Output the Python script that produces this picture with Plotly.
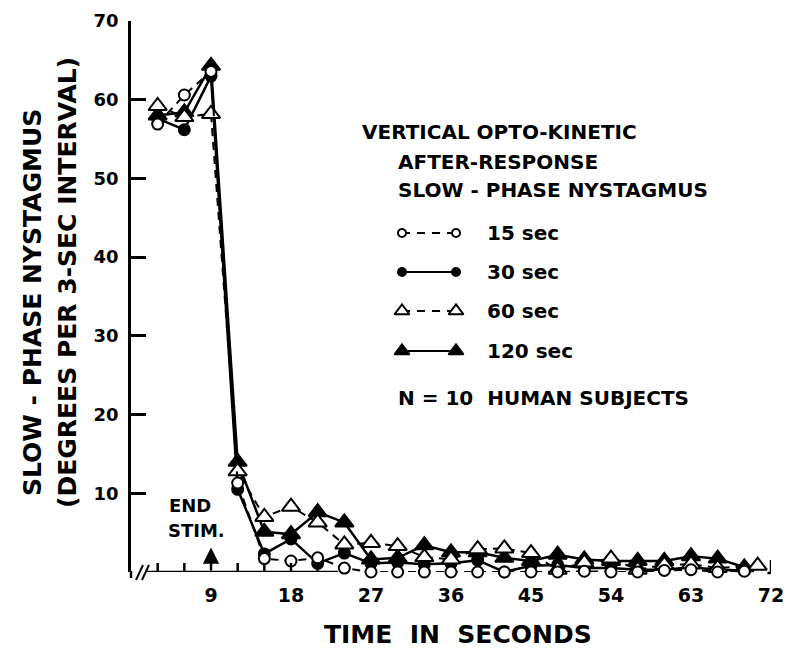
import plotly.graph_objects as go

# ---------------- data ----------------
time_s = [3, 6, 9, 12, 15, 18, 21, 24, 27, 30, 33, 36, 39, 42, 45, 48, 51, 54, 57, 60, 63, 66, 69]
time_60 = [3, 6, 9, 12, 15, 18, 21, 24, 27, 30, 33, 36, 39, 42, 45, 48, 51, 54, 57, 60, 63, 66, 70.5]
v15 = [56.9, 60.6, 63.6, 11.3, 1.7, 1.4, 1.8, 0.5, 0, 0, 0, 0, 0, 0, 0, 0, 0.1, 0, 0, 0.2, 0.3, 0, 0.1]
v30 = [57.6, 56.2, 63.0, 10.5, 2.3, 4.2, 1.1, 2.4, 1.1, 1.2, 1.0, 1.1, 1.5, 0, 0.8, 0.9, 0.5, 0.5, 0.3, 0.3, 0.6, 0.3, 0.2]
v60 = [59.2, 57.8, 58.2, 12.8, 7.0, 8.3, 6.3, 3.5, 3.7, 3.3, 1.9, 1.6, 2.9, 3.0, 2.4, 0.3, 1.2, 1.7, 0.3, 0.9, 1.0, 0.5, 0.8]
v120 = [58.0, 58.4, 64.3, 14.0, 5.1, 4.8, 7.6, 6.3, 1.6, 1.8, 3.4, 2.5, 2.5, 1.8, 1.4, 2.2, 1.6, 1.4, 1.4, 1.4, 2.0, 1.7, 0.6]
series_names = ["15 sec", "30 sec", "60 sec", "120 sec"]
y_ticks = [10, 20, 30, 40, 50, 60, 70]
x_ticks = [9, 18, 27, 36, 45, 54, 63, 72]
minor_x_ticks = [3, 6, 12, 15, 18, 21]
end_stim_time = 9
end_stim_arrow = 3.1

# ---------------- layout helpers ----------------
# the page body has an 8px margin, so the figure is drawn 8px in from the window corner
OFF = 8
W, H = 792 - OFF, 656 - OFF
L, R, T, B = 131 - OFF, 21, 21 - OFF, 84
FONT = "DejaVu Sans"


def xp(px):  # window pixel -> paper
    return (px - OFF - L) / (W - L - R)


def yp(py):  # window pixel -> paper
    return (H - B - (py - OFF)) / (H - T - B)


fig = go.Figure()

DASH = "8px,6px"
styles = {
    "15 sec": dict(symbol="circle", size=11, color="white", dash=DASH, lw=2),
    "30 sec": dict(symbol="circle", size=11, color="black", dash="solid", lw=2.5),
    "60 sec": dict(symbol="triangle-up", size=16, color="white", dash=DASH, lw=2),
    "120 sec": dict(symbol="triangle-up", size=16, color="black", dash="solid", lw=2.5),
}
series = {"15 sec": (time_s, v15), "30 sec": (time_s, v30), "60 sec": (time_60, v60), "120 sec": (time_s, v120)}

for name in ["120 sec", "30 sec", "60 sec", "15 sec"]:
    st = styles[name]
    xs, ys = series[name]
    fig.add_trace(go.Scatter(
        x=xs, y=ys, mode="lines+markers", name=name, showlegend=False, cliponaxis=False,
        line=dict(color="black", width=st["lw"], dash=st["dash"]),
        marker=dict(symbol=st["symbol"], size=st["size"], color=st["color"],
                    line=dict(color="black", width=2)),
    ))

# legend samples on an overlay axis in paper units
legend_rows = {"15 sec": 233, "30 sec": 272, "60 sec": 311, "120 sec": 351}
for name in series_names:
    st = styles[name]
    py = legend_rows[name]
    sz = 8 if st["symbol"] == "circle" else 13
    fig.add_trace(go.Scatter(
        x=[xp(402), xp(456)], y=[yp(py), yp(py)], xaxis="x2", yaxis="y2",
        mode="lines+markers", showlegend=False, cliponaxis=False, hoverinfo="skip",
        line=dict(color="black", width=2, dash="8px,7px" if st["dash"] != "solid" else "solid"),
        marker=dict(symbol=st["symbol"], size=sz, color=st["color"], line=dict(color="black", width=2)),
    ))
    fig.add_annotation(x=xp(485), y=yp(py), xref="paper", yref="paper", text=name, showarrow=False,
                       xanchor="left", yanchor="middle",
                       font=dict(family=FONT, size=20, color="black", weight="bold"))

fig.update_layout(
    width=W, height=H, margin=dict(l=L, r=R, t=T, b=B, autoexpand=False),
    paper_bgcolor="white", plot_bgcolor="white", showlegend=False,
    xaxis=dict(range=[0, 72], showgrid=False, zeroline=False, showline=False, ticks="", automargin=False,
               tickmode="array", tickvals=x_ticks, ticktext=[str(v) for v in x_ticks],
               tickfont=dict(family=FONT, size=19, color="black", weight="bold"), ticklabelstandoff=10),
    yaxis=dict(range=[0, 70], showgrid=False, zeroline=False, showline=True, linewidth=2.5, linecolor="black",
               ticks="inside", ticklen=15, tickwidth=2.5, tickcolor="black", automargin=False,
               tickmode="array", tickvals=y_ticks, ticktext=[str(v) for v in y_ticks],
               tickfont=dict(family=FONT, size=18, color="black", weight="bold"), ticklabelstandoff=6),
    xaxis2=dict(range=[0, 1], overlaying="x", visible=False, automargin=False),
    yaxis2=dict(range=[0, 1], overlaying="y", visible=False, automargin=False),
)

shapes = []
# x axis line (drawn only where visible in the reference)
shapes.append(dict(type="line", xref="x", yref="y", x0=1.6, x1=23.3, y0=0, y1=0,
                   line=dict(color="black", width=2.5)))
# y axis small extension below zero
shapes.append(dict(type="line", xref="paper", yref="paper", x0=0, x1=0, y0=yp(571), y1=yp(578),
                   line=dict(color="black", width=2.5)))
# axis break marks
for off in (0, 6):
    shapes.append(dict(type="line", xref="paper", yref="paper", x0=xp(136 + off), x1=xp(143 + off),
                       y0=yp(580), y1=yp(565), line=dict(color="black", width=2)))
# minor inward ticks
for t in minor_x_ticks:
    shapes.append(dict(type="line", xref="x", yref="paper", x0=t, x1=t, y0=yp(572), y1=yp(563),
                       line=dict(color="black", width=2.5)))
# end tick at 72
shapes.append(dict(type="line", xref="x", yref="paper", x0=72, x1=72, y0=yp(573), y1=yp(560),
                   line=dict(color="black", width=2.5)))
shapes.append(dict(type="line", xref="x", yref="paper", x0=71.6, x1=72, y0=yp(573), y1=yp(573),
                   line=dict(color="black", width=2.5)))
fig.update_layout(shapes=shapes)

# End-stimulus arrow
fig.add_annotation(x=end_stim_time, y=end_stim_arrow, ax=end_stim_time, ay=0, xref="x", yref="y",
                   axref="x", ayref="y", text="", showarrow=True, arrowhead=2, arrowsize=1.3,
                   arrowwidth=2.5, arrowcolor="black")


def text(px, py, s, size, anchor="left", angle=0):
    fig.add_annotation(x=xp(px), y=yp(py), xref="paper", yref="paper", text=s, showarrow=False,
                       xanchor=anchor, yanchor="middle", textangle=angle,
                       font=dict(family=FONT, size=size, color="black", weight="bold"))


text(167, 505, "END", 18)
text(166, 530, "STIM.", 18)
text(360, 132, "VERTICAL OPTO-KINETIC", 20)
text(396, 162, "AFTER-RESPONSE", 20)
text(396, 190, "SLOW - PHASE NYSTAGMUS", 20)
text(396, 398, "N = 10  HUMAN SUBJECTS", 20)
text(458, 634, "TIME  IN  SECONDS", 25, anchor="center")
text(32, 303, "SLOW - PHASE NYSTAGMUS", 25, anchor="center", angle=-90)
text(67, 283, "(DEGREES PER 3-SEC INTERVAL)", 25, anchor="center", angle=-90)

fig.write_html("out.html")
